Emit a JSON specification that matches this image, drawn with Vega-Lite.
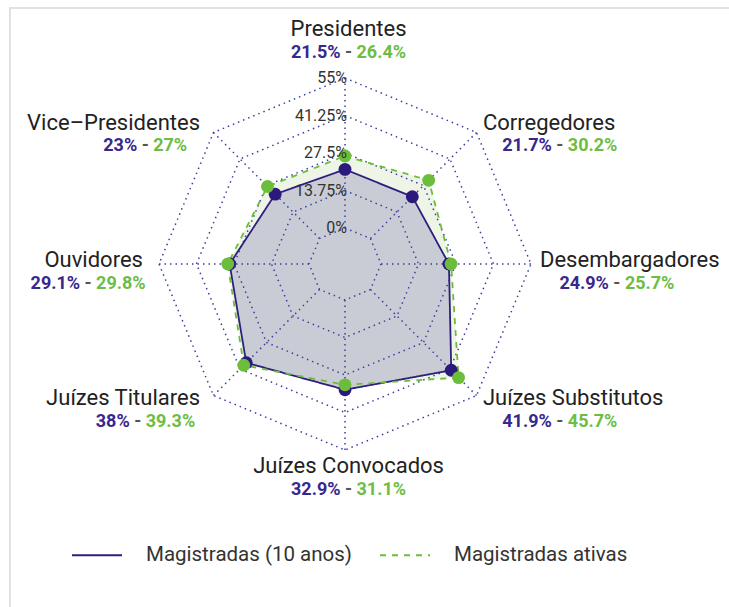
{
  "$schema": "https://vega.github.io/schema/vega-lite/v6.json",
  "width": 730,
  "height": 610,
  "autosize": {"type": "none"},
  "padding": {"left": 10, "top": 8, "right": 0, "bottom": 0},
  "background": "white",
  "view": {"stroke": "#e2e2e2", "strokeWidth": 2},
  "config": {"font": "Roboto"},
  "datasets": {
    "dados": [
      {"cargo": "Presidentes", "serie": "Magistradas (10 anos)", "valor": 21.5},
      {"cargo": "Corregedores", "serie": "Magistradas (10 anos)", "valor": 21.7},
      {"cargo": "Desembargadores", "serie": "Magistradas (10 anos)", "valor": 24.9},
      {"cargo": "Juízes Substitutos", "serie": "Magistradas (10 anos)", "valor": 41.9},
      {"cargo": "Juízes Convocados", "serie": "Magistradas (10 anos)", "valor": 32.9},
      {"cargo": "Juízes Titulares", "serie": "Magistradas (10 anos)", "valor": 38},
      {"cargo": "Ouvidores", "serie": "Magistradas (10 anos)", "valor": 29.1},
      {"cargo": "Vice–Presidentes", "serie": "Magistradas (10 anos)", "valor": 23},
      {"cargo": "Presidentes", "serie": "Magistradas ativas", "valor": 26.4},
      {"cargo": "Corregedores", "serie": "Magistradas ativas", "valor": 30.2},
      {"cargo": "Desembargadores", "serie": "Magistradas ativas", "valor": 25.7},
      {"cargo": "Juízes Substitutos", "serie": "Magistradas ativas", "valor": 45.7},
      {"cargo": "Juízes Convocados", "serie": "Magistradas ativas", "valor": 31.1},
      {"cargo": "Juízes Titulares", "serie": "Magistradas ativas", "valor": 39.3},
      {"cargo": "Ouvidores", "serie": "Magistradas ativas", "valor": 29.8},
      {"cargo": "Vice–Presidentes", "serie": "Magistradas ativas", "valor": 27}
    ],
    "grade": [
      {"nivel": 0, "cargo": ["Presidentes", "Corregedores", "Desembargadores", "Juízes Substitutos", "Juízes Convocados", "Juízes Titulares", "Ouvidores", "Vice–Presidentes"]},
      {"nivel": 13.75, "cargo": ["Presidentes", "Corregedores", "Desembargadores", "Juízes Substitutos", "Juízes Convocados", "Juízes Titulares", "Ouvidores", "Vice–Presidentes"]},
      {"nivel": 27.5, "cargo": ["Presidentes", "Corregedores", "Desembargadores", "Juízes Substitutos", "Juízes Convocados", "Juízes Titulares", "Ouvidores", "Vice–Presidentes"]},
      {"nivel": 41.25, "cargo": ["Presidentes", "Corregedores", "Desembargadores", "Juízes Substitutos", "Juízes Convocados", "Juízes Titulares", "Ouvidores", "Vice–Presidentes"]},
      {"nivel": 55, "cargo": ["Presidentes", "Corregedores", "Desembargadores", "Juízes Substitutos", "Juízes Convocados", "Juízes Titulares", "Ouvidores", "Vice–Presidentes"]}
    ]
  },
  "encoding": {
    "x": {"field": "x", "type": "quantitative", "scale": {"domain": [-122.83, 144.83], "nice": false, "zero": false}, "axis": null},
    "y": {"field": "y", "type": "quantitative", "scale": {"domain": [-129.8, 93.87], "nice": false, "zero": false}, "axis": null}
  },
  "layer": [
    {
      "data": {"name": "dados"},
      "transform": [
        {"filter": "datum.serie == 'Magistradas ativas'"},
        {"calculate": "indexof(['Presidentes','Corregedores','Desembargadores','Juízes Substitutos','Juízes Convocados','Juízes Titulares','Ouvidores','Vice–Presidentes'], datum.cargo)", "as": "idx"},
        {"calculate": "(datum.valor + 13.2) * sin(datum.idx * PI / 4)", "as": "x"},
        {"calculate": "(datum.valor + 13.2) * cos(datum.idx * PI / 4)", "as": "y"}
      ],
      "mark": {"type": "line", "interpolate": "linear-closed", "fill": "#eef4e6", "strokeWidth": 0},
      "encoding": {"order": {"field": "idx", "type": "quantitative"}}
    },
    {
      "data": {"name": "dados"},
      "transform": [
        {"filter": "datum.serie == 'Magistradas (10 anos)'"},
        {"calculate": "indexof(['Presidentes','Corregedores','Desembargadores','Juízes Substitutos','Juízes Convocados','Juízes Titulares','Ouvidores','Vice–Presidentes'], datum.cargo)", "as": "idx"},
        {"calculate": "(datum.valor + 13.2) * sin(datum.idx * PI / 4)", "as": "x"},
        {"calculate": "(datum.valor + 13.2) * cos(datum.idx * PI / 4)", "as": "y"}
      ],
      "mark": {"type": "line", "interpolate": "linear-closed", "fill": "#c9ccd4", "strokeWidth": 0},
      "encoding": {"order": {"field": "idx", "type": "quantitative"}}
    },
    {
      "data": {"name": "grade"},
      "transform": [
        {"flatten": ["cargo"]},
        {"calculate": "indexof(['Presidentes','Corregedores','Desembargadores','Juízes Substitutos','Juízes Convocados','Juízes Titulares','Ouvidores','Vice–Presidentes'], datum.cargo)", "as": "idx"},
        {"calculate": "(datum.nivel + 13.2) * sin(datum.idx * PI / 4)", "as": "x"},
        {"calculate": "(datum.nivel + 13.2) * cos(datum.idx * PI / 4)", "as": "y"}
      ],
      "mark": {"type": "line", "interpolate": "linear-closed", "stroke": "#3e3ea0", "strokeWidth": 1.5, "strokeDash": [1.5, 4]},
      "encoding": {
        "detail": {"field": "nivel", "type": "nominal"},
        "order": {"field": "idx", "type": "quantitative"}
      }
    },
    {
      "data": {"name": "grade"},
      "transform": [
        {"filter": "datum.nivel == 0"},
        {"flatten": ["cargo"]},
        {"calculate": "indexof(['Presidentes','Corregedores','Desembargadores','Juízes Substitutos','Juízes Convocados','Juízes Titulares','Ouvidores','Vice–Presidentes'], datum.cargo)", "as": "idx"},
        {"calculate": "13.2 * sin(datum.idx * PI / 4)", "as": "x"},
        {"calculate": "13.2 * cos(datum.idx * PI / 4)", "as": "y"},
        {"calculate": "68.2 * sin(datum.idx * PI / 4)", "as": "x2"},
        {"calculate": "68.2 * cos(datum.idx * PI / 4)", "as": "y2"}
      ],
      "mark": {"type": "rule", "stroke": "#3e3ea0", "strokeWidth": 1.5, "strokeDash": [1.5, 4]},
      "encoding": {
        "x2": {"field": "x2"},
        "y2": {"field": "y2"}
      }
    },
    {
      "data": {"name": "dados"},
      "transform": [
        {"calculate": "indexof(['Presidentes','Corregedores','Desembargadores','Juízes Substitutos','Juízes Convocados','Juízes Titulares','Ouvidores','Vice–Presidentes'], datum.cargo)", "as": "idx"},
        {"calculate": "(datum.valor + 13.2) * sin(datum.idx * PI / 4)", "as": "x"},
        {"calculate": "(datum.valor + 13.2) * cos(datum.idx * PI / 4)", "as": "y"}
      ],
      "mark": {"type": "line", "interpolate": "linear-closed", "strokeWidth": 1.8},
      "encoding": {
        "order": {"field": "idx", "type": "quantitative"},
        "color": {"field": "serie", "type": "nominal",
          "scale": {"domain": ["Magistradas (10 anos)", "Magistradas ativas"], "range": ["#2e1f7e", "#6cbd3c"]},
          "legend": {"title": null, "orient": "none", "legendX": 61, "legendY": 521, "direction": "horizontal",
            "symbolType": "stroke", "symbolSize": 2500, "symbolStrokeWidth": 2,
            "labelFont": "Roboto", "labelFontSize": 20.5, "labelColor": "#333333",
            "labelOffset": 23, "columnPadding": 24, "padding": 0, "labelLimit": 400}},
        "strokeDash": {"field": "serie", "type": "nominal",
          "scale": {"domain": ["Magistradas (10 anos)", "Magistradas ativas"], "range": [[1, 0], [6, 6]]},
          "legend": {"title": null, "orient": "none", "legendX": 61, "legendY": 521, "direction": "horizontal",
            "symbolType": "stroke", "symbolSize": 2500, "symbolStrokeWidth": 2,
            "labelFont": "Roboto", "labelFontSize": 20.5, "labelColor": "#333333",
            "labelOffset": 23, "columnPadding": 24, "padding": 0, "labelLimit": 400}}
      }
    },
    {
      "data": {"name": "dados"},
      "transform": [
        {"calculate": "indexof(['Presidentes','Corregedores','Desembargadores','Juízes Substitutos','Juízes Convocados','Juízes Titulares','Ouvidores','Vice–Presidentes'], datum.cargo)", "as": "idx"},
        {"calculate": "(datum.valor + 13.2) * sin(datum.idx * PI / 4)", "as": "x"},
        {"calculate": "(datum.valor + 13.2) * cos(datum.idx * PI / 4)", "as": "y"}
      ],
      "mark": {"type": "circle", "size": 165, "opacity": 1},
      "encoding": {
        "fill": {"field": "serie", "type": "nominal", "legend": null,
          "scale": {"domain": ["Magistradas (10 anos)", "Magistradas ativas"], "range": ["#2b1a7c", "#6cbd3c"]}}
      }
    },
    {
      "data": {"name": "grade"},
      "transform": [
        {"calculate": "0", "as": "x"},
        {"calculate": "datum.nivel + 13.2", "as": "y"},
        {"calculate": "toString(datum.nivel) + '%'", "as": "rotulo"}
      ],
      "mark": {"type": "text", "align": "right", "baseline": "middle", "dx": 2, "fontSize": 16, "color": "#333333"},
      "encoding": {"text": {"field": "rotulo"}}
    },
    {
      "data": {"name": "dados"},
      "transform": [
        {"filter": "datum.serie == 'Magistradas (10 anos)'"},
        {"calculate": "indexof(['Presidentes','Corregedores','Desembargadores','Juízes Substitutos','Juízes Convocados','Juízes Titulares','Ouvidores','Vice–Presidentes'], datum.cargo) * PI / 4", "as": "ang"},
        {"calculate": "sin(datum.ang) > 0.1 ? 1 : (sin(datum.ang) < -0.1 ? -1 : 0)", "as": "side"},
        {"calculate": "cos(datum.ang) > 0.9 ? 1 : (cos(datum.ang) < -0.9 ? -1 : 0)", "as": "vert"},
        {"calculate": "71.5 * sin(datum.ang) + (datum.side == 0 ? 1.3 : 0) + (datum.side == -1 && datum.vert == 0 ? -2.6 : 0)", "as": "x"},
        {"calculate": "71.5 * cos(datum.ang) + (datum.vert == 1 ? 14.67 : (datum.vert == -1 ? -2.57 : 1.3))", "as": "y"}
      ],
      "mark": {"type": "text", "align": {"expr": "datum.side == 1 ? 'left' : (datum.side == -1 ? 'right' : 'center')"}, "baseline": "middle", "fontSize": 22, "color": "#222222"},
      "encoding": {"text": {"field": "cargo"}}
    },
    {
      "data": {"name": "dados"},
      "transform": [
        {"pivot": "serie", "value": "valor", "groupby": ["cargo"]},
        {"calculate": "datum['Magistradas (10 anos)']", "as": "va"},
        {"calculate": "datum['Magistradas ativas']", "as": "vb"},
        {"calculate": "toString(datum.va) + '%'", "as": "ta"},
        {"calculate": "toString(datum.vb) + '%'", "as": "tb"},
        {"calculate": "18 * ((length(datum.ta) - 1 - (indexof(datum.ta, '.') >= 0 ? 1 : 0)) * 0.562 + (indexof(datum.ta, '.') >= 0 ? 0.27 : 0) + 0.74)", "as": "wa"},
        {"calculate": "18 * ((length(datum.tb) - 1 - (indexof(datum.tb, '.') >= 0 ? 1 : 0)) * 0.562 + (indexof(datum.tb, '.') >= 0 ? 0.27 : 0) + 0.74)", "as": "wb"},
        {"calculate": "(datum.wa - datum.wb) / 2 / 2.727", "as": "shift"},
        {"calculate": "indexof(['Presidentes','Corregedores','Desembargadores','Juízes Substitutos','Juízes Convocados','Juízes Titulares','Ouvidores','Vice–Presidentes'], datum.cargo) * PI / 4", "as": "ang"},
        {"calculate": "sin(datum.ang) > 0.1 ? 1 : (sin(datum.ang) < -0.1 ? -1 : 0)", "as": "side"},
        {"calculate": "cos(datum.ang) > 0.9 ? 1 : (cos(datum.ang) < -0.9 ? -1 : 0)", "as": "vert"},
        {"calculate": "71.5 * sin(datum.ang) + datum.side * (datum.side == -1 && datum.vert == 0 ? 22.7 : 28.2) + (datum.side == 0 ? 1.3 : 0) + datum.shift", "as": "x"},
        {"calculate": "71.5 * cos(datum.ang) + (datum.vert == 1 ? 5.87 : (datum.vert == -1 ? -11.37 : -7.3))", "as": "y"}
      ],
      "layer": [
        {
          "mark": {"type": "text", "align": "right", "baseline": "middle", "dx": -8, "fontSize": 18, "fontWeight": "bold", "color": "#38278c"},
          "encoding": {"text": {"field": "ta"}}
        },
        {
          "mark": {"type": "text", "align": "center", "baseline": "middle", "fontSize": 18, "fontWeight": "bold", "color": "#555555", "text": "-"},
          "encoding": {}
        },
        {
          "mark": {"type": "text", "align": "left", "baseline": "middle", "dx": 8, "fontSize": 18, "fontWeight": "bold", "color": "#6dbd44"},
          "encoding": {"text": {"field": "tb"}}
        }
      ]
    }
  ]
}
